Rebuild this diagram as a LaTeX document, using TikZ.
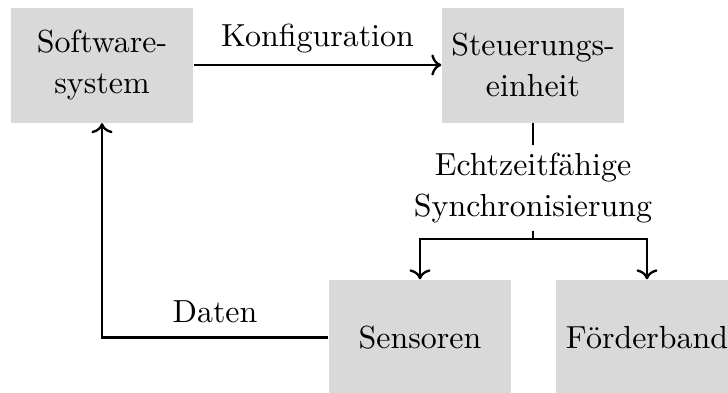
\documentclass[tikz,border=0pt]{standalone}
\usetikzlibrary{arrows.meta}
\definecolor{boxgray}{RGB}{217,217,217}
\begin{document}
\begin{tikzpicture}[x=0.3226pt,y=-0.3226pt,
  every node/.style={font=\fontsize{10.3}{13}\selectfont},
  box/.style={fill=boxgray,draw=none,minimum width=58.7pt,minimum height=37.1pt,align=center,inner sep=0pt},
  conn/.style={line width=0.75pt},
  arr/.style={conn,->},
  lbl/.style={align=center,inner sep=2.6pt}]
\useasboundingbox (0,0) rectangle (728,392);
\clip (0,0) rectangle (728,392);
\node[box] (soft) at (102,65) {Software-\\system};
\node[box] (steu) at (533,65) {Steuerungs-\\einheit};
\node[box] (sens) at (420,337.5) {Sensoren};
\node[box] (foer) at (647,337.5) {Förderband};
\node[lbl] (sync) at (533,188) {Echtzeitfähige\\Synchronisierung};
\coordinate (j) at (533,239);
\draw[arr] (soft) -- (steu) node[midway,above] (konf) {Konfiguration};
\draw[conn] (steu.south) -- (sync.north);
\draw[conn] (sync.south) -- (j);
\draw[arr] (j) -| (sens.north);
\draw[arr] (j) -| (foer.north);
\draw[arr] (sens.west) -| (soft.south);
\node (daten) at (215,312) {Daten};
\end{tikzpicture}
\end{document}
